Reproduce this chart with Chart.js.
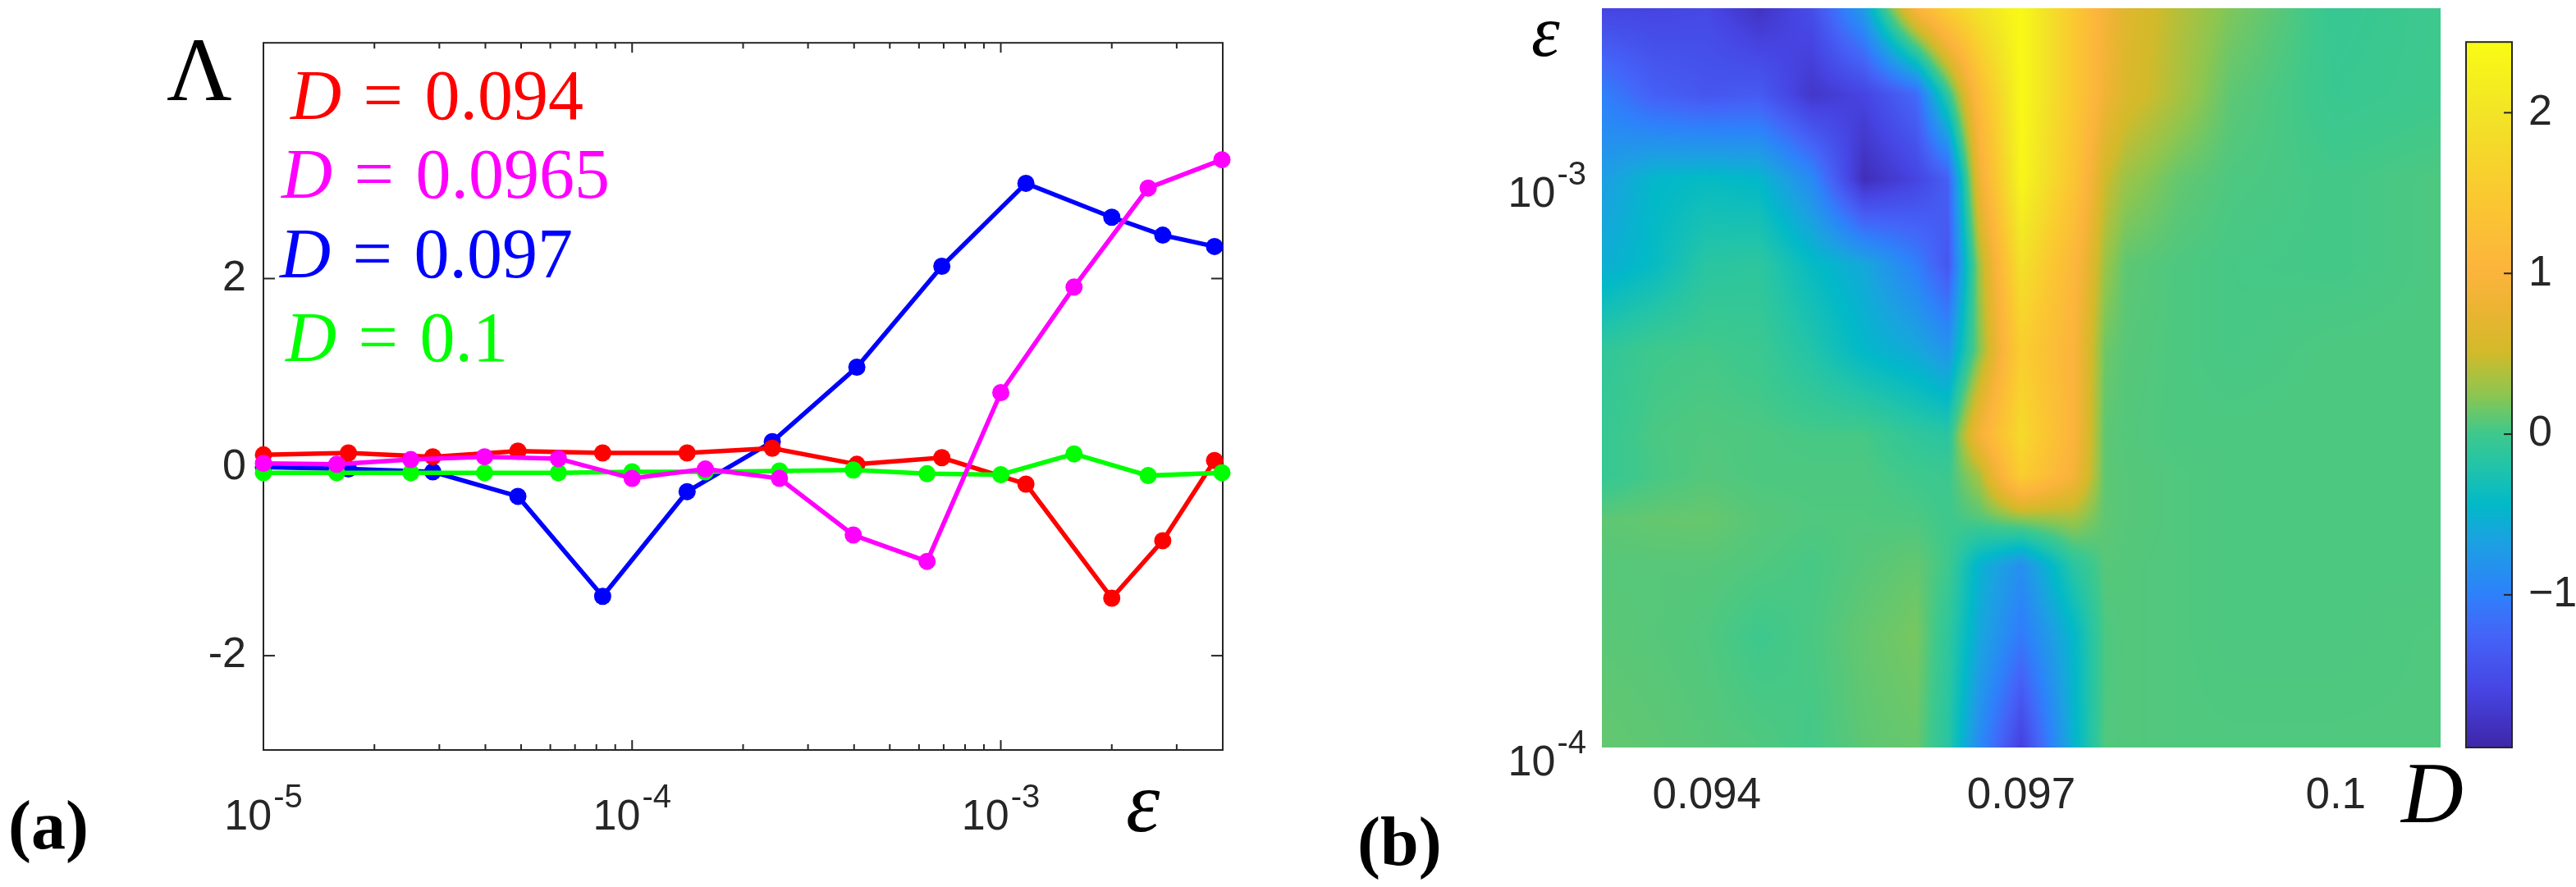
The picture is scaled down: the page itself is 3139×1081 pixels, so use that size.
<!DOCTYPE html>
<html>
<head>
<meta charset="utf-8">
<script src="https://cdn.jsdelivr.net/npm/chart.js@4.4.1/dist/chart.umd.min.js"></script>
<style>
  body { margin: 0; background: #fff; width: 3139px; height: 1081px; position: relative; overflow: hidden; }
  canvas { position: absolute; top: 0; }
  .lbl { position: absolute; line-height: 1; white-space: nowrap; font-family: 'Liberation Serif', 'DejaVu Serif', serif; color: #000; }
  .lbl i { font-style: italic; }
  .leg { font-size: 86px; word-spacing: 5px; }
</style>
</head>
<body>
<canvas id="lineChart" width="1560" height="1081" style="left:0"></canvas>
<canvas id="mapChart" width="1230" height="1081" style="left:1760px"></canvas>
<canvas id="barChart" width="144" height="1081" style="left:2995px"></canvas>

<div class="lbl" style="left:203px;top:30px;font-size:110px">Λ</div>
<div class="lbl leg" style="left:354px;top:73px;color:#ff0000"><i>D</i> = 0.094</div>
<div class="lbl leg" style="left:343px;top:169px;color:#ff00ff"><i>D</i> = 0.0965</div>
<div class="lbl leg" style="left:341px;top:266px;color:#0000ff"><i>D</i> = 0.097</div>
<div class="lbl leg" style="left:348px;top:368px;color:#00ff00"><i>D</i> = 0.1</div>
<div class="lbl" style="left:1372px;top:925px;font-size:105px"><i>ε</i></div>
<div class="lbl" style="left:10px;top:964px;font-size:84px;font-weight:bold">(a)</div>
<div class="lbl" style="left:1866px;top:-5px;font-size:88px"><i>ε</i></div>
<div class="lbl" style="left:2926px;top:914px;font-size:105px"><i>D</i></div>
<div class="lbl" style="left:1654px;top:984px;font-size:84px;font-weight:bold">(b)</div>

<script>
// ---- panel (a): Lambda against epsilon for four values of D ----
const epsSetA = [1.0e-5, 1.70e-5, 2.88e-5, 4.90e-5, 8.32e-5, 1.41e-4, 2.40e-4, 4.07e-4, 6.92e-4, 1.17e-3, 2.0e-3, 2.75e-3, 3.8e-3];
const epsSetB = [1.0e-5, 1.58e-5, 2.51e-5, 3.98e-5, 6.31e-5, 1.0e-4, 1.58e-4, 2.51e-4, 3.98e-4, 6.31e-4, 1.0e-3, 1.58e-3, 2.51e-3, 3.98e-3];
const lambdaD0940 = [0.13, 0.15, 0.11, 0.17, 0.15, 0.15, 0.20, 0.03, 0.10, -0.18, -1.39, -0.78, 0.07];
const lambdaD0965 = [0.04, 0.03, 0.08, 0.11, 0.09, -0.12, -0.02, -0.12, -0.72, -1.00, 0.79, 1.91, 2.96, 3.26];
const lambdaD0970 = [0.00, -0.02, -0.05, -0.31, -1.37, -0.26, 0.27, 1.06, 2.13, 3.01, 2.65, 2.46, 2.34];
const lambdaD1000 = [-0.06, -0.06, -0.06, -0.06, -0.06, -0.05, -0.05, -0.04, -0.03, -0.07, -0.08, 0.14, -0.09, -0.06];
const seriesNames = ['D = 0.0965', 'D = 0.1', 'D = 0.094', 'D = 0.097'];
const xTicksA = [1e-5, 1e-4, 1e-3];
const yTicksA = [-2, 0, 2];

// ---- panel (b): Lambda over the (D, epsilon) plane ----
const dGrid = [0.093, 0.0935, 0.094, 0.0945, 0.095, 0.0955, 0.096, 0.0963, 0.0966, 0.097, 0.0975, 0.0978, 0.098, 0.0985, 0.099, 0.1, 0.101];
const epsGrid = [1.0e-4, 1.58e-4, 2.09e-4, 2.51e-4, 3.02e-4, 3.55e-4, 5.01e-4, 7.08e-4, 1.0e-3, 1.41e-3, 2.0e-3];
const lambdaGrid = [
  [0.12, 0.10, 0.08, 0.06, 0.02, 0.10, 0.13, -0.15, -0.90, -1.65, -0.50, 0.06, 0.07, 0.06, 0.06, 0.06, 0.06],
  [0.09, 0.08, 0.06, 0.00, 0.04, 0.12, 0.18, -0.10, -0.60, -1.05, -0.45, 0.05, 0.07, 0.06, 0.05, 0.05, 0.06],
  [0.08, 0.08, 0.08, 0.06, 0.03, 0.08, 0.12, 0.00, -0.50, -0.85, -0.15, 0.08, 0.07, 0.06, 0.05, 0.05, 0.05],
  [0.10, 0.12, 0.13, 0.08, 0.06, 0.06, 0.05, 0.00, 0.05, 0.20, 0.30, 0.10, 0.08, 0.06, 0.05, 0.05, 0.05],
  [-0.05, 0.03, 0.07, 0.05, 0.05, 0.05, 0.00, -0.02, 0.35, 1.60, 0.90, 0.10, 0.08, 0.06, 0.05, 0.05, 0.05],
  [-0.05, 0.04, 0.06, 0.05, 0.03, 0.03, -0.10, -0.15, 0.90, 1.80, 1.00, 0.10, 0.07, 0.05, 0.05, 0.05, 0.05],
  [-0.10, 0.00, 0.02, -0.02, -0.20, -0.45, -0.60, -0.80, 0.20, 1.60, 1.00, 0.15, 0.08, 0.05, 0.03, 0.05, 0.05],
  [-0.55, -0.40, -0.15, -0.12, -0.40, -0.60, -1.00, -1.40, 0.30, 1.95, 1.10, 0.30, 0.10, 0.05, 0.03, 0.02, 0.05],
  [-0.70, -0.45, -0.40, -0.45, -0.90, -1.85, -1.60, -1.30, 0.80, 2.35, 1.40, 0.50, 0.30, 0.12, 0.05, 0.02, 0.05],
  [-1.00, -1.30, -1.40, -1.35, -1.75, -1.60, -1.20, -0.10, 1.20, 2.40, 1.50, 0.85, 0.60, 0.35, 0.10, -0.03, 0.00],
  [-1.60, -1.60, -1.55, -1.80, -1.50, -0.70, 1.00, 1.60, 2.00, 2.40, 1.50, 0.90, 0.65, 0.40, 0.20, -0.05, 0.00]
];
const xTicksB = [0.094, 0.097, 0.1];
const yTicksB = [1e-4, 1e-3];
const cbarTicks = [-1, 0, 1, 2];
const cMin = -1.95, cMax = 2.44;

// parula-like colour map (position, r, g, b)
const parulaStops = [
  [0.00, 62, 38, 168], [0.08, 70, 68, 226], [0.16, 68, 100, 248], [0.22, 45, 130, 250],
  [0.29, 28, 160, 226], [0.345, 2, 185, 200], [0.40, 35, 196, 168], [0.445, 62, 200, 140],
  [0.50, 140, 198, 80], [0.56, 210, 186, 42], [0.62, 235, 180, 50], [0.675, 252, 180, 60],
  [0.79, 250, 202, 48], [0.90, 242, 228, 38], [1.00, 249, 251, 20]
];

const axisColor = '#262626';
const sansFont = '"Liberation Sans", Arial, sans-serif';
Chart.defaults.font.family = sansFont;
Chart.defaults.color = axisColor;

function parula(v) {
  let t = (v - cMin) / (cMax - cMin);
  t = Math.max(0, Math.min(1, t));
  for (let i = 1; i < parulaStops.length; i++) {
    const a = parulaStops[i - 1], b = parulaStops[i];
    if (t <= b[0]) {
      const f = (t - a[0]) / (b[0] - a[0]);
      return [a[1] + f * (b[1] - a[1]), a[2] + f * (b[2] - a[2]), a[3] + f * (b[3] - a[3])];
    }
  }
  const last = parulaStops[parulaStops.length - 1];
  return [last[1], last[2], last[3]];
}

function locate(arr, v) {
  let k = 0;
  while (k < arr.length - 2 && v > arr[k + 1]) k++;
  let f = (v - arr[k]) / (arr[k + 1] - arr[k]);
  return [k, Math.max(0, Math.min(1, f))];
}

function line(ctx, x1, y1, x2, y2) {
  ctx.beginPath();
  ctx.moveTo(x1, y1);
  ctx.lineTo(x2, y2);
  ctx.stroke();
}

// "10" with a raised exponent, like the MATLAB tick labels
function drawPower(ctx, value, x, y, align) {
  const exp = String(Math.round(Math.log10(value)));
  ctx.font = '52px ' + sansFont;
  const wBase = ctx.measureText('10').width;
  ctx.font = '40px ' + sansFont;
  const wExp = ctx.measureText(exp).width;
  const total = wBase + 2 + wExp;
  const left = align === 'right' ? x - total : x - total / 2;
  ctx.fillStyle = axisColor;
  ctx.textAlign = 'left';
  ctx.textBaseline = 'alphabetic';
  ctx.font = '52px ' + sansFont;
  ctx.fillText('10', left, y);
  ctx.font = '40px ' + sansFont;
  ctx.fillText(exp, left + wBase + 2, y - 27);
}

const toPoints = (xs, ys) => xs.map((x, i) => ({ x: x, y: ys[i] }));

// box, inward ticks and the x tick labels of panel (a)
const boxPlugin = {
  id: 'box',
  beforeDatasetsDraw(chart) {
    const { ctx, chartArea: ca, scales: { x, y } } = chart;
    ctx.save();
    ctx.strokeStyle = axisColor;
    ctx.lineWidth = 2;
    ctx.strokeRect(ca.left, ca.top, ca.right - ca.left, ca.bottom - ca.top);
    for (let e = -5; e <= -3; e++) {
      for (let m = 1; m <= 9; m++) {
        const v = m * Math.pow(10, e);
        if (v < x.min || v > x.max) continue;
        const px = x.getPixelForValue(v);
        const len = m === 1 ? 12 : 7;
        line(ctx, px, ca.bottom, px, ca.bottom - len);
        line(ctx, px, ca.top, px, ca.top + len);
      }
    }
    yTicksA.forEach(v => {
      const py = y.getPixelForValue(v);
      line(ctx, ca.left, py, ca.left + 14, py);
      line(ctx, ca.right, py, ca.right - 14, py);
    });
    ctx.restore();
  },
  afterDraw(chart) {
    const { ctx, chartArea: ca, scales: { x } } = chart;
    ctx.save();
    xTicksA.forEach(v => drawPower(ctx, v, x.getPixelForValue(v), ca.bottom + 97, 'center'));
    ctx.restore();
  }
};

new Chart(document.getElementById('lineChart'), {
  type: 'line',
  data: {
    datasets: [
      { label: seriesNames[0], data: toPoints(epsSetB, lambdaD0965), borderColor: '#ff00ff', pointBackgroundColor: '#ff00ff', order: 0 },
      { label: seriesNames[1], data: toPoints(epsSetB, lambdaD1000), borderColor: '#00ff00', pointBackgroundColor: '#00ff00', order: 1 },
      { label: seriesNames[2], data: toPoints(epsSetA, lambdaD0940), borderColor: '#ff0000', pointBackgroundColor: '#ff0000', order: 2 },
      { label: seriesNames[3], data: toPoints(epsSetA, lambdaD0970), borderColor: '#0000ff', pointBackgroundColor: '#0000ff', order: 3 }
    ].map(d => Object.assign(d, {
      borderWidth: 5.5, pointRadius: 10.5, pointBorderWidth: 0, pointBorderColor: d.borderColor,
      tension: 0, fill: false, clip: false
    }))
  },
  options: {
    responsive: false,
    devicePixelRatio: 1,
    animation: false,
    events: [],
    layout: { padding: { left: 0, top: 38, right: 70, bottom: 0 } },
    plugins: { legend: { display: false }, tooltip: { enabled: false } },
    scales: {
      x: {
        type: 'logarithmic', min: 1e-5, max: 4e-3,
        grid: { display: false }, border: { display: false },
        ticks: { display: false },
        afterFit: s => { s.height = 167; }
      },
      y: {
        type: 'linear', min: -3, max: 4.5,
        grid: { display: false, drawTicks: false }, border: { display: false },
        afterBuildTicks: s => { s.ticks = yTicksA.map(v => ({ value: v })); },
        ticks: { font: { size: 52 }, color: axisColor, padding: 21, callback: v => String(v) },
        afterFit: s => { s.width = 321; }
      }
    }
  },
  plugins: [boxPlugin]
});

// interpolated map of panel (b)
const heatmapPlugin = {
  id: 'heatmap',
  beforeDatasetsDraw(chart) {
    const { ctx, chartArea: ca, scales: { x, y } } = chart;
    const left = Math.round(ca.left), top = Math.round(ca.top);
    const w = Math.round(ca.right) - left, h = Math.round(ca.bottom) - top;
    const img = ctx.createImageData(w, h);
    const logEps = epsGrid.map(Math.log10);
    const cols = [], rows = [];
    for (let i = 0; i < w; i++) cols.push(locate(dGrid, x.getValueForPixel(left + i + 0.5)));
    for (let j = 0; j < h; j++) rows.push(locate(logEps, Math.log10(y.getValueForPixel(top + j + 0.5))));
    let p = 0;
    for (let j = 0; j < h; j++) {
      const [r, fy] = rows[j];
      const g0 = lambdaGrid[r], g1 = lambdaGrid[r + 1];
      for (let i = 0; i < w; i++) {
        const [c, fx] = cols[i];
        const a = g0[c] + fx * (g0[c + 1] - g0[c]);
        const b = g1[c] + fx * (g1[c + 1] - g1[c]);
        const rgb = parula(a + fy * (b - a));
        img.data[p++] = rgb[0];
        img.data[p++] = rgb[1];
        img.data[p++] = rgb[2];
        img.data[p++] = 255;
      }
    }
    ctx.putImageData(img, left, top);
    ctx.save();
    yTicksB.forEach(v => drawPower(ctx, v, ca.left - 19, y.getPixelForValue(v) + 34, 'right'));
    ctx.restore();
  }
};

new Chart(document.getElementById('mapChart'), {
  type: 'scatter',
  data: { datasets: [] },
  options: {
    responsive: false,
    devicePixelRatio: 1,
    animation: false,
    events: [],
    layout: { padding: { left: 0, top: 10, right: 16, bottom: 0 } },
    plugins: { legend: { display: false }, tooltip: { enabled: false } },
    scales: {
      x: {
        type: 'linear', min: 0.093, max: 0.101,
        grid: { display: false, drawTicks: false }, border: { display: false },
        afterBuildTicks: s => { s.ticks = xTicksB.map(v => ({ value: v })); },
        ticks: { font: { size: 53 }, color: axisColor, padding: 28, maxRotation: 0, autoSkip: false, callback: v => String(v) },
        afterFit: s => { s.height = 170; }
      },
      y: {
        type: 'logarithmic', min: 1e-4, max: 2e-3,
        grid: { display: false, drawTicks: false }, border: { display: false },
        ticks: { display: false },
        afterFit: s => { s.width = 192; }
      }
    }
  },
  plugins: [heatmapPlugin]
});

// colour bar
const colorbarPlugin = {
  id: 'colorbar',
  beforeDatasetsDraw(chart) {
    const { ctx, chartArea: ca, scales: { y } } = chart;
    ctx.save();
    for (let py = Math.floor(ca.top); py < ca.bottom; py++) {
      const rgb = parula(y.getValueForPixel(py + 0.5));
      ctx.fillStyle = 'rgb(' + rgb.map(Math.round).join(',') + ')';
      ctx.fillRect(ca.left, py, ca.right - ca.left, 1);
    }
    ctx.strokeStyle = axisColor;
    ctx.lineWidth = 2;
    ctx.strokeRect(ca.left, ca.top, ca.right - ca.left, ca.bottom - ca.top);
    cbarTicks.forEach(v => {
      const py = y.getPixelForValue(v);
      line(ctx, ca.right, py, ca.right - 10, py);
    });
    ctx.restore();
  }
};

new Chart(document.getElementById('barChart'), {
  type: 'scatter',
  data: { datasets: [] },
  options: {
    responsive: false,
    devicePixelRatio: 1,
    animation: false,
    events: [],
    layout: { padding: { left: 10, top: 10, right: 0, bottom: 170 } },
    plugins: { legend: { display: false }, tooltip: { enabled: false } },
    scales: {
      x: { display: false, min: 0, max: 1 },
      y: {
        type: 'linear', position: 'right', min: cMin, max: cMax,
        grid: { display: false, drawTicks: false }, border: { display: false },
        afterBuildTicks: s => { s.ticks = cbarTicks.map(v => ({ value: v })); },
        ticks: { font: { size: 52 }, color: axisColor, padding: 20, callback: v => (v < 0 ? '\u2212' + Math.abs(v) : String(v)) },
        afterFit: s => { s.width = 78; }
      }
    }
  },
  plugins: [colorbarPlugin]
});
</script>
</body>
</html>
